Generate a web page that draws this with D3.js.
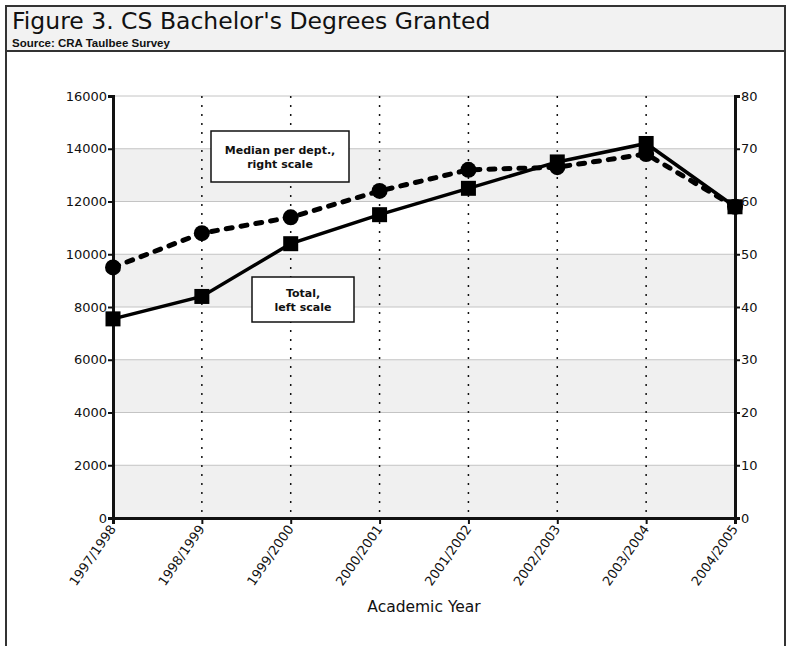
<!DOCTYPE html>
<html>
<head>
<meta charset="utf-8">
<script src="https://cdn.jsdelivr.net/npm/d3@7"></script>
<style>
  body { margin: 0; background: #fff; }
  svg text { font-family: "DejaVu Sans", Verdana, sans-serif; fill: #111; }
</style>
</head>
<body>
<div id="chart"></div>
<script>
// CS Bachelor's degrees, CRA Taulbee Survey
const years = ["1997/1998", "1998/1999", "1999/2000", "2000/2001",
               "2001/2002", "2002/2003", "2003/2004", "2004/2005"];
const totalDegrees = [7550, 8400, 10400, 11500, 12500, 13500, 14200, 11800];
const medianPerDept = [47.5, 54, 57, 62, 66, 66.5, 69, 59];
const leftTicks = [0, 2000, 4000, 6000, 8000, 10000, 12000, 14000, 16000];
const rightTicks = [0, 10, 20, 30, 40, 50, 60, 70, 80];

const width = 792, height = 646;
const margin = { top: 96, right: 57, bottom: 128, left: 113 };
const innerW = width - margin.left - margin.right;
const innerH = height - margin.top - margin.bottom;

const svg = d3.select("#chart").append("svg")
  .attr("width", width)
  .attr("height", height);

// frame + header
svg.append("rect")
  .attr("x", 6).attr("y", 6)
  .attr("width", 779).attr("height", 660)
  .attr("fill", "#fff")
  .attr("stroke", "#333").attr("stroke-width", 2);

svg.append("rect")
  .attr("x", 6).attr("y", 6)
  .attr("width", 779).attr("height", 45)
  .attr("fill", "#f2f2f2")
  .attr("stroke", "#333").attr("stroke-width", 2);

svg.append("text")
  .attr("x", 12).attr("y", 29)
  .attr("font-size", 23.5)
  .text("Figure 3. CS Bachelor's Degrees Granted");

svg.append("text")
  .attr("x", 12).attr("y", 46.5)
  .style("font-family", "'Liberation Sans', Arial, sans-serif")
  .attr("font-size", 11.5)
  .attr("font-weight", "bold")
  .text("Source: CRA Taulbee Survey");

const g = svg.append("g")
  .attr("transform", `translate(${margin.left},${margin.top})`);

const xScale = d3.scalePoint().domain(years).range([0, innerW]);
const yLeft = d3.scaleLinear().domain([0, 16000]).range([innerH, 0]);
const yRight = d3.scaleLinear().domain([0, 80]).range([innerH, 0]);

// alternating bands
const bandStarts = leftTicks.slice(0, -1).filter((d, i) => i % 2 === 0);
g.selectAll(".band").data(bandStarts).enter().append("rect")
  .attr("x", 0)
  .attr("width", innerW)
  .attr("y", d => yLeft(d + 2000))
  .attr("height", d => yLeft(d) - yLeft(d + 2000))
  .attr("fill", "#f0f0f0");

// horizontal grid
g.selectAll(".hgrid").data(leftTicks.slice(1)).enter().append("line")
  .attr("x1", 0).attr("x2", innerW)
  .attr("y1", d => yLeft(d)).attr("y2", d => yLeft(d))
  .attr("stroke", "#c4c4c4").attr("stroke-width", 1);

// dotted verticals
g.selectAll(".vgrid").data(years.slice(1, -1)).enter().append("line")
  .attr("x1", d => xScale(d)).attr("x2", d => xScale(d))
  .attr("y1", 0).attr("y2", innerH)
  .attr("stroke", "#111").attr("stroke-width", 1.5)
  .attr("stroke-dasharray", "2,7");

// axes
const xAxisG = g.append("g")
  .attr("transform", `translate(0,${innerH})`)
  .call(d3.axisBottom(xScale).tickSizeOuter(0).tickSize(6));
xAxisG.selectAll("text")
  .attr("font-size", 13)
  .attr("text-anchor", "end")
  .attr("x", 0).attr("y", 0).attr("dy", 0)
  .attr("transform", "translate(3,11) rotate(-55)");

const yLeftG = g.append("g")
  .call(d3.axisLeft(yLeft).tickValues(leftTicks).tickFormat(d3.format("d"))
    .tickSizeOuter(0).tickSize(5).tickPadding(1));
yLeftG.selectAll("text").attr("font-size", 13);

const yRightG = g.append("g")
  .attr("transform", `translate(${innerW},0)`)
  .call(d3.axisRight(yRight).tickValues(rightTicks).tickSizeOuter(0).tickSize(5).tickPadding(1));
yRightG.selectAll("text").attr("font-size", 13);

[xAxisG, yLeftG, yRightG].forEach(a => {
  a.select(".domain").attr("stroke", "#111").attr("stroke-width", 3);
  a.selectAll(".tick line").attr("stroke", "#111").attr("stroke-width", 2);
});

svg.append("text")
  .attr("x", margin.left + innerW / 2)
  .attr("y", 612)
  .attr("text-anchor", "middle")
  .attr("font-size", 15.5)
  .text("Academic Year");

// median line (right scale)
const medianLine = d3.line()
  .x((d, i) => xScale(years[i]))
  .y(d => yRight(d));

g.append("path")
  .datum(medianPerDept)
  .attr("fill", "none")
  .attr("stroke", "#000")
  .attr("stroke-width", 5)
  .attr("stroke-linecap", "round")
  .attr("stroke-dasharray", "6,9")
  .attr("d", medianLine);

g.selectAll(".dot").data(medianPerDept).enter().append("circle")
  .attr("cx", (d, i) => xScale(years[i]))
  .attr("cy", d => yRight(d))
  .attr("r", 8)
  .attr("fill", "#000");

// total line (left scale)
const totalLine = d3.line()
  .x((d, i) => xScale(years[i]))
  .y(d => yLeft(d));

g.append("path")
  .datum(totalDegrees)
  .attr("fill", "none")
  .attr("stroke", "#000")
  .attr("stroke-width", 3.5)
  .attr("d", totalLine);

const sq = 15;
g.selectAll(".sq").data(totalDegrees).enter().append("rect")
  .attr("x", (d, i) => xScale(years[i]) - sq / 2)
  .attr("y", d => yLeft(d) - sq / 2)
  .attr("width", sq).attr("height", sq)
  .attr("fill", "#000");

// annotation boxes
function note(x, y, w, h, lines) {
  svg.append("rect")
    .attr("x", x).attr("y", y).attr("width", w).attr("height", h)
    .attr("fill", "#fff").attr("stroke", "#111").attr("stroke-width", 1.5);
  lines.forEach((t, i) => {
    svg.append("text")
      .attr("x", x + w / 2)
      .attr("y", y + h / 2 - 3 + (i - (lines.length - 1) / 2) * 14 + 7)
      .attr("text-anchor", "middle")
      .attr("font-size", 11)
      .attr("font-weight", "bold")
      .text(t);
  });
}
note(211, 131, 138, 51, ["Median per dept.,", "right scale"]);
note(252, 277, 102, 45, ["Total,", "left scale"]);
</script>
</body>
</html>
